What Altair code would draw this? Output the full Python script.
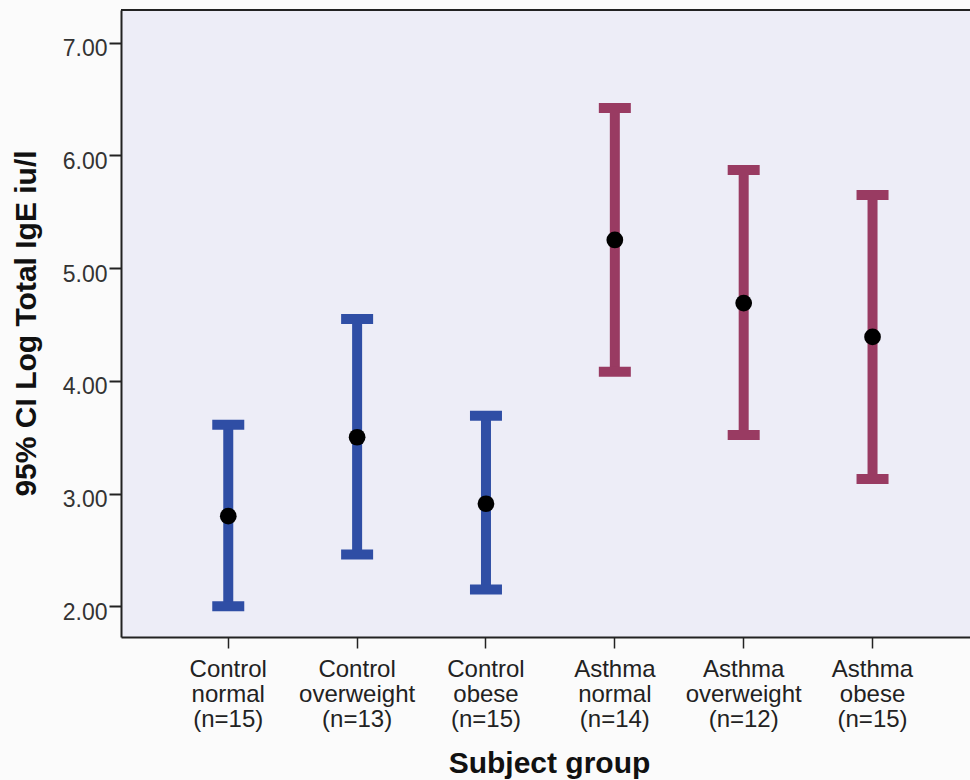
import altair as alt
import pandas as pd

groups = ["Control", "Control", "Control", "Asthma", "Asthma", "Asthma"]
weights = ["normal", "overweight", "obese", "normal", "overweight", "obese"]
ns = [15, 13, 15, 14, 12, 15]
means = [2.80, 3.50, 2.91, 5.25, 4.69, 4.39]
lows = [2.00, 2.46, 2.15, 4.08, 3.52, 3.13]
highs = [3.61, 4.55, 3.69, 6.42, 5.87, 5.65]

cats = [f"{g}|{w}|(n={n})" for g, w, n in zip(groups, weights, ns)]
df = pd.DataFrame({"cat": cats, "group": groups, "mean": means, "lo": lows, "hi": highs})

W, H = 849, 627
FONT = "Liberation Sans"

xenc = alt.X(
    "cat:N",
    sort=cats,
    scale=alt.Scale(paddingInner=0, paddingOuter=0.2944, align=0.5646),
    axis=alt.Axis(
        title="Subject group",
        labelExpr="split(datum.label, '|')",
        labelAngle=0,
        labelFontSize=24,
        labelFont=FONT,
        labelColor="#222222",
        labelBaseline="top",
        labelLineHeight=25,
        labelPadding=9,
        tickSize=11,
        tickWidth=1.5,
        tickColor="#222222",
        domainColor="#222222",
        domainWidth=2,
        titleFontSize=30,
        titleFont=FONT,
        titleFontWeight="bold",
        titleColor="#111111",
        titleX=428,
        titleY=135,
        titleAlign="center",
        titleBaseline="alphabetic",
    ),
)

yscale = alt.Scale(domain=[1.728, 7.29], nice=False, zero=False)
yaxis = alt.Axis(
    title="95% CI Log Total IgE iu/l",
    values=[2, 3, 4, 5, 6, 7],
    format=".2f",
    grid=False,
    labelFontSize=23,
    labelFont=FONT,
    labelColor="#333333",
    labelBaseline="alphabetic",
    labelOffset=13,
    labelPadding=2,
    tickSize=12,
    tickWidth=2,
    tickColor="#222222",
    domainColor="#222222",
    domainWidth=2,
    titleFontSize=30,
    titleFont=FONT,
    titleFontWeight="bold",
    titleColor="#111111",
    titleAngle=270,
    titleX=-86,
    titleY=313,
    titleAlign="center",
    titleBaseline="alphabetic",
)

color = alt.Color(
    "group:N",
    scale=alt.Scale(domain=["Control", "Asthma"], range=["#2f4ea5", "#993b62"]),
    legend=None,
)

base = alt.Chart(df)

bars = base.mark_rule(strokeWidth=10).encode(
    x=xenc, y=alt.Y("lo:Q", scale=yscale, axis=yaxis), y2="hi:Q", color=color
)
cap_lo = base.mark_tick(size=32, thickness=10, opacity=1).encode(
    x=alt.X("cat:N", sort=cats), y=alt.Y("lo:Q"), color=color
)
cap_hi = base.mark_tick(size=32, thickness=10, opacity=1).encode(
    x=alt.X("cat:N", sort=cats), y=alt.Y("hi:Q"), color=color
)
pts = base.mark_circle(size=280, color="black", opacity=1).encode(
    x=alt.X("cat:N", sort=cats), y=alt.Y("mean:Q")
)
top_border = alt.Chart(pd.DataFrame({"a": [0]})).mark_rule(
    color="#222222", strokeWidth=2
).encode(x=alt.value(0), x2=alt.value(W), y=alt.value(0))

chart = (
    alt.layer(bars, cap_lo, cap_hi, pts, top_border)
    .properties(
        width=W,
        height=H,
        autosize=alt.AutoSizeParams(type="none"),
        padding={"left": 121, "top": 10, "right": 0, "bottom": 143},
        background="#fbfbfb",
    )
    .configure_view(fill="#ededf7", stroke="transparent", strokeWidth=0)
)

chart.save("out.html", embed_options={"renderer": "svg", "actions": False})
